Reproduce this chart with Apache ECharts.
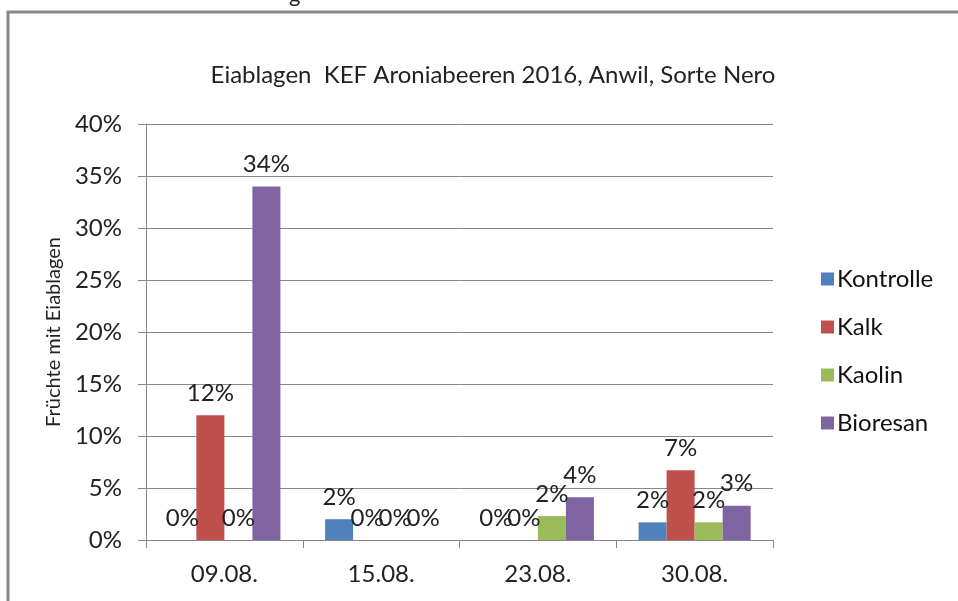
<!DOCTYPE html>
<html>
<head>
<meta charset="utf-8">
<script src="https://cdn.jsdelivr.net/npm/echarts@6/dist/echarts.min.js"></script>
<style>html,body{margin:0;padding:0;background:#fff;}#c{width:958px;height:601px;}</style>
</head>
<body>
<div id="c"></div>
<script>
const categories = ['09.08.', '15.08.', '23.08.', '30.08.'];
const seriesNames = ['Kontrolle', 'Kalk', 'Kaolin', 'Bioresan'];
const kontrolle = [0, 2.0, 0, 1.7];
const kalk = [12.0, 0, 0, 6.7];
const kaolin = [0, 0, 2.3, 1.7];
const bioresan = [34.0, 0, 4.1, 3.3];
const yTicks = [0, 5, 10, 15, 20, 25, 30, 35, 40];
const colors = ['#4F81BD', '#C0504D', '#9BBB59', '#8064A2'];
const FONT = 'Lato';

const chart = echarts.init(document.getElementById('c'));
const data = [kontrolle, kalk, kaolin, bioresan];
chart.setOption({
  animation: false,
  backgroundColor: '#fff',
  title: {
    text: 'Eiablagen  KEF Aroniabeeren 2016, Anwil, Sorte Nero',
    left: 488, top: 58, textAlign: 'center',
    textStyle: { fontFamily: FONT, fontSize: 24, fontWeight: 'normal', color: '#222' }
  },
  legend: {
    orient: 'vertical', left: 816, top: 262, itemGap: 24,
    itemWidth: 13, itemHeight: 13, icon: 'rect',
    textStyle: { fontFamily: FONT, fontSize: 24, color: '#111', padding: [0,0,0,-2] },
    data: seriesNames
  },
  grid: { left: 146, top: 124, right: 185, bottom: 61, containLabel: false },
  xAxis: {
    type: 'category', data: categories,
    axisLine: { lineStyle: { color: '#888', width: 1 } },
    axisTick: { show: true, alignWithLabel: false, length: 8, lineStyle: { color: '#888' } },
    axisLabel: { fontFamily: FONT, fontSize: 24, color: '#222', margin: 22 }
  },
  yAxis: {
    type: 'value', min: 0, max: 40, interval: 5,
    name: 'Früchte mit Eiablagen', nameLocation: 'middle', nameGap: 80, nameRotate: 90,
    nameTextStyle: { fontFamily: FONT, fontSize: 20, color: '#222' },
    axisLine: { show: true, lineStyle: { color: '#888' } },
    axisTick: { show: true, inside: false, length: 8, lineStyle: { color: '#888' } },
    splitLine: { lineStyle: { color: '#888', width: 1 } },
    axisLabel: { fontFamily: FONT, fontSize: 24, color: '#222', margin: 24,
      formatter: v => yTicks.includes(v) ? v + '%' : '' }
  },
  series: data.map((d, i) => ({
    name: seriesNames[i], type: 'bar', data: d,
    barGap: '0%', barCategoryGap: '28.5%',
    itemStyle: { color: colors[i] },
    label: { show: true, position: 'top', distance: 10, fontFamily: FONT, fontSize: 24, color: '#222',
      formatter: p => Math.round(p.value) + '%' }
  })),
  graphic: [
    { type: 'rect', shape: { x: 8, y: 12, width: 960, height: 620 }, style: { fill: 'none', stroke: '#888', lineWidth: 3 }, z: 100 },
    { type: 'text', left: 289, top: -16, style: { text: 'g', font: '22px Lato', fill: '#222' } }
  ]
});
</script>
</body>
</html>
